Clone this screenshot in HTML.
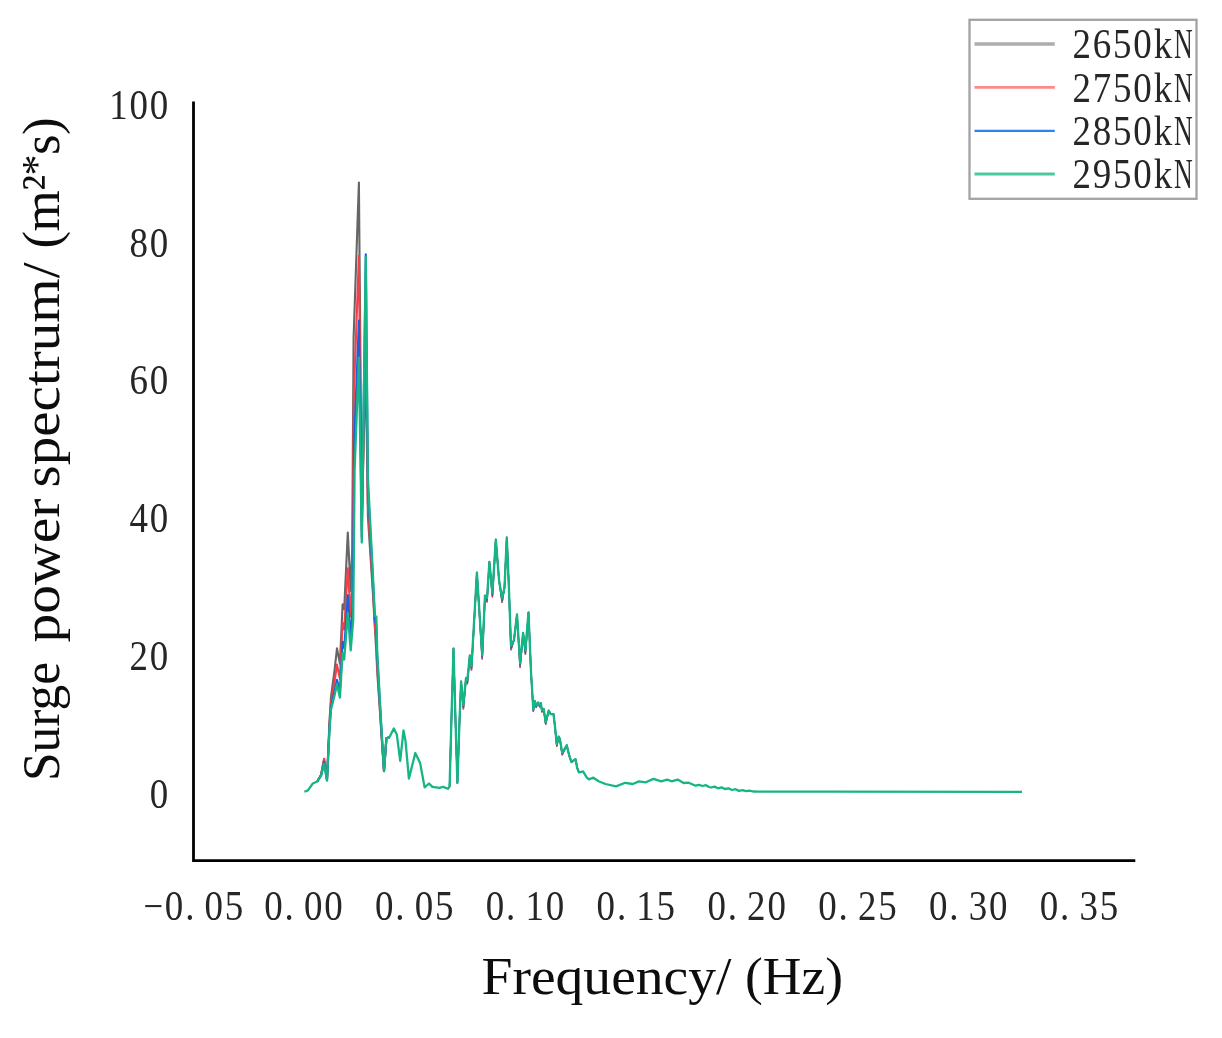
<!DOCTYPE html>
<html><head><meta charset="utf-8"><title>Surge power spectrum</title>
<style>
html,body{margin:0;padding:0;background:#fff;}
body{width:1222px;height:1038px;overflow:hidden;position:relative;}
svg{position:absolute;left:0;top:0;display:block;}
.tick{font-family:"Liberation Serif","Noto Serif CJK SC",serif;font-size:41.5px;letter-spacing:2.05px;word-spacing:-3px;fill:#262626;}
.lab{font-family:"Liberation Serif","Noto Serif CJK SC",serif;fill:#111;}
</style></head><body>
<svg width="1222" height="1038" viewBox="0 0 1222 1038">
<rect x="0" y="0" width="1222" height="1038" fill="#ffffff"/>
<defs><filter id="bl" x="-5%" y="-5%" width="110%" height="110%"><feGaussianBlur stdDeviation="0.55"/></filter><filter id="bt" x="-5%" y="-20%" width="110%" height="140%"><feGaussianBlur stdDeviation="0.45"/></filter></defs>
<!--CURVES-->
<g fill="none" stroke-linejoin="round" stroke-linecap="butt" filter="url(#bl)">
<polyline stroke="#666666" stroke-width="2.1" points="317.2,781.5 321.1,774.8 324.1,758.9 327.0,779.1 329.5,720.9 331.0,697.0 334.6,669.8 337.0,648.4 339.9,663.6 342.6,604.4 344.2,609.2 347.8,532.5 350.7,591.0 352.2,548.7 353.6,337.4 358.9,182.5 361.8,517.6 365.8,364.0 367.9,516.8 372.7,590.0 374.9,628.3 376.3,651.6 377.2,671.2 380.4,718.5 381.5,735.7 384.0,771.3 386.4,738.3 389.4,737.3"/>
<polyline stroke="#666666" stroke-width="1.5" points="449.6,786.4 451.3,724.0 453.5,648.6 455.6,724.0 457.4,783.0 459.4,724.0 461.1,681.5 463.4,709.0 466.0,678.0 467.4,683.8 469.8,655.5 471.5,670.0 476.9,572.6 482.2,659.0 485.0,595.6 487.0,602.0 489.4,561.8 492.4,597.0 495.8,539.6 499.1,580.7 502.1,602.3 504.5,587.5 506.8,537.5 508.9,587.5 511.0,649.8 514.0,640.0 517.0,614.5 520.1,667.3 523.1,632.8 525.4,654.2 528.5,612.4 531.0,672.0 533.3,711.3 534.6,700.8 536.2,707.4 537.9,702.5 539.7,706.9 540.8,703.1 542.0,712.0 543.7,709.0 545.7,724.2 548.7,710.6 550.6,714.1 553.5,714.1 554.7,724.0 556.8,746.2 558.7,736.6 559.9,739.0 562.2,754.8 566.8,745.3 569.1,755.1 571.4,762.1 575.5,759.2 577.2,767.9 579.0,772.5"/>
<polyline stroke="#f5404a" stroke-width="2.1" points="317.2,781.5 321.1,774.8 324.1,759.0 327.0,779.6 329.5,724.5 331.0,702.8 334.6,681.4 337.0,664.6 339.9,678.7 342.6,622.9 344.2,629.5 347.8,568.3 350.7,616.5 352.5,579.1 353.9,393.7 358.9,255.9 361.8,530.0 365.8,326.5 367.9,503.8 372.7,584.2 374.9,624.8 376.3,640.3 377.2,665.6 380.4,715.8 381.5,733.9 384.0,771.1 386.4,738.3 389.4,737.3"/>
<polyline stroke="#f5404a" stroke-width="1.5" points="449.6,786.4 451.3,724.0 453.5,648.6 455.6,724.0 457.4,783.0 459.4,724.0 461.1,681.5 463.4,708.8 466.0,678.0 467.4,683.6 469.8,655.5 471.5,669.8 476.9,572.6 482.2,658.8 485.0,595.6 487.0,601.8 489.4,561.8 492.4,596.8 495.8,539.6 499.1,580.7 502.1,602.1 504.5,587.5 506.8,537.5 508.9,587.5 511.0,649.6 514.0,640.0 517.0,614.5 520.1,667.1 523.1,632.8 525.4,654.0 528.5,612.4 531.0,672.0 533.3,711.2 534.6,700.8 536.2,707.3 537.9,702.5 539.7,706.8 540.8,703.1 542.0,711.9 543.7,709.0 545.7,724.1 548.7,710.6 550.6,714.1 553.5,714.1 554.7,724.0 556.8,746.1 558.7,736.6 559.9,739.0 562.2,754.7 566.8,745.3 569.1,755.1 571.4,762.1 575.5,759.2 577.2,767.9 579.0,772.5"/>
<polyline stroke="#1b5fe0" stroke-width="2.1" points="317.2,781.5 321.1,775.2 324.1,761.7 327.0,780.2 329.5,727.6 331.0,706.9 334.6,691.1 337.0,679.7 339.9,691.0 342.6,641.9 344.2,648.1 347.8,595.1 350.7,637.7 352.8,604.8 354.2,441.8 358.9,320.6 361.8,537.5 365.8,254.3 367.9,486.9 372.7,576.1 374.9,619.5 376.3,626.2 377.2,657.2 380.4,712.1 381.5,731.4 384.0,770.9 386.4,738.3 389.4,737.3"/>
<polyline stroke="#1b5fe0" stroke-width="1.5" points="449.6,786.4 451.3,724.0 453.5,648.6 455.6,724.0 457.4,783.0 459.4,724.0 461.1,681.5 463.4,707.2 466.0,678.0 467.4,682.0 469.8,655.5 471.5,668.2 476.9,572.6 482.2,657.2 485.0,595.6 487.0,600.2 489.4,561.8 492.4,595.2 495.8,539.6 499.1,580.7 502.1,600.5 504.5,587.5 506.8,537.5 508.9,587.5 511.0,648.0 514.0,640.0 517.0,614.5 520.1,665.5 523.1,632.8 525.4,652.4 528.5,612.4 531.0,672.0 533.3,710.4 534.6,700.8 536.2,706.5 537.9,702.5 539.7,706.0 540.8,703.1 542.0,711.1 543.7,709.0 545.7,723.3 548.7,710.6 550.6,714.1 553.5,714.1 554.7,724.0 556.8,745.3 558.7,736.6 559.9,739.0 562.2,753.9 566.8,745.3 569.1,755.1 571.4,762.1 575.5,759.2 577.2,767.9 579.0,772.5"/>

<polyline stroke="#17b585" stroke-width="2.3" points="304.4,791.8 307.9,790.4 312.8,783.5 317.2,781.5 321.1,775.6 324.1,763.9 327.0,780.5 329.5,729.5 331.0,709.4 334.6,695.0 337.0,684.0 339.9,697.5 342.6,653.0 344.2,659.5 347.8,613.0 350.7,650.4 353.2,620.0 354.6,470.0 358.9,357.5 361.8,542.5 365.8,257.0 367.9,478.0 372.7,571.0 374.9,616.0 376.3,616.6 377.2,651.6 380.4,709.4 381.5,729.5 384.0,770.7 386.4,738.3 389.4,737.3 393.8,728.5 396.8,734.4 400.2,760.9 403.5,730.5 405.5,741.0 408.9,778.6 415.3,753.0 420.1,762.9 424.6,787.4 429.0,783.5 432.4,786.9 439.3,787.9 443.3,786.9 447.9,788.8 449.6,786.4 451.3,724.0 453.5,648.6 455.6,724.0 457.4,783.0 459.4,724.0 461.1,681.5 463.4,705.0 466.0,678.0 467.4,679.8 469.8,655.5 471.5,666.0 476.9,572.6 482.2,655.0 485.0,595.6 487.0,598.0 489.4,561.8 492.4,593.0 495.8,539.6 499.1,580.7 502.1,598.3 504.5,587.5 506.8,537.5 508.9,587.5 511.0,645.8 514.0,640.0 517.0,614.5 520.1,663.3 523.1,632.8 525.4,650.2 528.5,612.4 531.0,672.0 533.3,709.3 534.6,700.8 536.2,705.4 537.9,702.5 539.7,704.9 540.8,703.1 542.0,710.0 543.7,709.0 545.7,722.2 548.7,710.6 550.6,714.1 553.5,714.1 554.7,724.0 556.8,744.2 558.7,736.6 559.9,739.0 562.2,752.8 566.8,745.3 569.1,755.1 571.4,762.1 575.5,759.2 577.2,767.9 579.0,772.5 583.0,771.3 586.5,777.1 588.8,779.4 593.4,777.7 598.6,781.2 605.5,784.0 616.0,786.4 625.2,782.8 632.8,784.0 638.9,781.4 645.8,782.3 653.5,778.9 661.2,781.4 667.3,779.6 671.6,781.3 677.6,779.6 683.6,783.0 688.7,782.7 695.6,785.7 699.0,784.9 702.5,786.0 705.9,785.2 709.0,787.0 711.1,787.5 714.5,786.6 718.0,788.3 721.5,787.4 725.0,789.0 728.5,788.3 732.0,790.0 735.5,789.2 739.0,790.9 742.5,790.2 746.0,791.2 749.5,790.6 753.0,791.5 757.5,791.6 830.0,791.6 1022.0,791.8"/>
</g>
<!--AXES-->
<path d="M193.5 101.5 V860.6 H1135.3" fill="none" stroke="#000" stroke-width="2.8" stroke-linejoin="miter"/>
<!--YTICKS-->
<g class="tick" filter="url(#bt)">
<text transform="translate(170.1,119.2) scale(0.89,1)" text-anchor="end">100</text>
<text transform="translate(170.1,256.9) scale(0.89,1)" text-anchor="end">80</text>
<text transform="translate(170.1,393.8) scale(0.89,1)" text-anchor="end">60</text>
<text transform="translate(170.1,532.2) scale(0.89,1)" text-anchor="end">40</text>
<text transform="translate(170.1,670.2) scale(0.89,1)" text-anchor="end">20</text>
<text transform="translate(170.1,808.2) scale(0.89,1)" text-anchor="end">0</text>
</g>
<!--XTICKS-->
<g class="tick" filter="url(#bt)">
<text transform="translate(143.5,919.8) scale(0.89,1)"><tspan textLength="24" lengthAdjust="spacingAndGlyphs">−</tspan>0. 05</text>
<text transform="translate(264.3,919.8) scale(0.89,1)">0. 00</text>
<text transform="translate(375,919.8) scale(0.89,1)">0. 05</text>
<text transform="translate(485.8,919.8) scale(0.89,1)">0. 10</text>
<text transform="translate(596.6,919.8) scale(0.89,1)">0. 15</text>
<text transform="translate(707.4,919.8) scale(0.89,1)">0. 20</text>
<text transform="translate(818.2,919.8) scale(0.89,1)">0. 25</text>
<text transform="translate(929,919.8) scale(0.89,1)">0. 30</text>
<text transform="translate(1039.8,919.8) scale(0.89,1)">0. 35</text>
</g>
<!--LABELS-->
<text class="lab" filter="url(#bt)" y="993.6" font-size="53"><tspan x="481.5" textLength="250" lengthAdjust="spacingAndGlyphs">Frequency/</tspan> <tspan x="745" textLength="98" lengthAdjust="spacingAndGlyphs">(Hz)</tspan></text>
<text class="lab" filter="url(#bt)" transform="translate(59,0) rotate(-90)" y="0" font-size="53"><tspan x="-781" textLength="119" lengthAdjust="spacingAndGlyphs">Surge</tspan> <tspan x="-642.5" textLength="144" lengthAdjust="spacingAndGlyphs">power</tspan> <tspan x="-487.5" textLength="225" lengthAdjust="spacingAndGlyphs">spectrum/</tspan> <tspan x="-248.5" letter-spacing="-0.6">(m²<tspan font-size="42" dy="-8">*</tspan><tspan dy="8">s)</tspan></tspan></text>
<!--LEGEND-->
<g filter="url(#bt)">
<rect x="969.5" y="19.8" width="227" height="179" fill="#fff" stroke="#a3a3a3" stroke-width="2.3"/>
<g fill="none">
<line x1="974.5" x2="1054.8" y1="43.9" y2="43.9" stroke="#adadad" stroke-width="3.5"/>
<line x1="974.5" x2="1054.8" y1="87.4" y2="87.4" stroke="#ff8888" stroke-width="2.6"/>
<line x1="974.5" x2="1054.8" y1="130.8" y2="130.8" stroke="#2a85ec" stroke-width="2.3"/>
<line x1="974.5" x2="1054.8" y1="174" y2="174" stroke="#4fc79c" stroke-width="2.9"/>
</g>
</g>
<g class="tick" filter="url(#bt)">
<text transform="translate(1072.5,58.2) scale(0.89,1)">2650k<tspan textLength="22.5" lengthAdjust="spacingAndGlyphs">N</tspan></text>
<text transform="translate(1072.5,101.6) scale(0.89,1)">2750k<tspan textLength="22.5" lengthAdjust="spacingAndGlyphs">N</tspan></text>
<text transform="translate(1072.5,145) scale(0.89,1)">2850k<tspan textLength="22.5" lengthAdjust="spacingAndGlyphs">N</tspan></text>
<text transform="translate(1072.5,188.3) scale(0.89,1)">2950k<tspan textLength="22.5" lengthAdjust="spacingAndGlyphs">N</tspan></text>
</g>
</svg>
</body></html>
